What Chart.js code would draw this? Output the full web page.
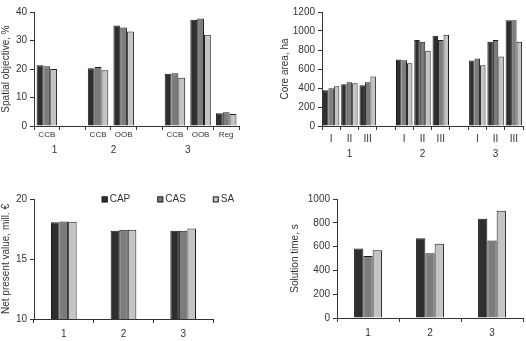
<!DOCTYPE html>
<html><head><meta charset="utf-8">
<script src="https://cdn.jsdelivr.net/npm/chart.js@4.4.0/dist/chart.umd.min.js"></script>
<style>
html,body{margin:0;padding:0;background:#fff;width:526px;height:341px;overflow:hidden}
canvas{position:absolute}
</style></head><body>
<canvas id="c1" width="263" height="170" style="left:0;top:0"></canvas>
<canvas id="c2" width="263" height="170" style="left:263px;top:0"></canvas>
<canvas id="c3" width="263" height="171" style="left:0;top:170px"></canvas>
<canvas id="c4" width="263" height="171" style="left:263px;top:170px"></canvas>
<script>
const seriesNames = ['CAP','CAS','SA'];
const seriesColors = ['#2e2e2e','#7c7c7c','#c4c4c4'];

const spatialCats = ['CCB','','CCB','OOB','','CCB','OOB','Reg'];
const spatialGroups = ['1','2','3'];
const spatialCAP = [21.3,null,20.3,35.3,null,18.3,37.3,4.5];
const spatialCAS = [21.0,null,20.7,34.6,null,18.5,37.7,4.8];
const spatialSA  = [20.0,null,19.6,33.2,null,16.9,32.0,4.2];

const coreCats = ['I','II','III','','I','II','III','','I','II','III'];
const coreGroups = ['1','2','3'];
const coreCAP = [376,440,430,null,700,905,950,null,690,887,1112];
const coreCAS = [398,461,461,null,692,887,904,null,711,904,1112];
const coreSA  = [419,450,521,null,661,792,961,null,640,732,887];

const runCats = ['1','2','3'];
const npvCAP = [18.07,17.35,17.35];
const npvCAS = [18.13,17.43,17.35];
const npvSA  = [18.10,17.43,17.54];
const timeCAP = [584,670,835];
const timeCAS = [520,545,651];
const timeSA  = [570,623,902];

const FONT = '"Liberation Sans", Arial, sans-serif';
const TXT = '#333';

const groupLabelPlugin = {
  id: 'groupLabels',
  afterDraw(chart, args, opts) {
    if (!opts || !opts.labels) return;
    const x = chart.scales.x, ctx = chart.ctx;
    ctx.save();
    ctx.font = '10px ' + FONT; ctx.fillStyle = TXT;
    ctx.textAlign = 'center'; ctx.textBaseline = 'middle';
    opts.labels.forEach((t, i) => ctx.fillText(t, x.getPixelForValue(opts.at[i]), x.top + opts.dy));
    ctx.restore();
  }
};

const boxLegendPlugin = {
  id: 'boxLegend',
  afterDraw(chart, args, opts) {
    if (!opts || !opts.show) return;
    const ctx = chart.ctx, a = chart.chartArea;
    ctx.save();
    ctx.font = '10px ' + FONT; ctx.textBaseline = 'middle'; ctx.textAlign = 'left';
    let x = a.left + opts.dx; const y = a.top + opts.dy;
    chart.data.datasets.forEach(ds => {
      ctx.fillStyle = ds.backgroundColor; ctx.fillRect(x, y - 3, 6, 6);
      ctx.strokeStyle = '#222'; ctx.lineWidth = 1; ctx.strokeRect(x + 0.5, y - 2.5, 5, 5);
      ctx.fillStyle = TXT; ctx.fillText(ds.label, x + 8, y);
      x += 8 + ctx.measureText(ds.label).width + opts.gap;
    });
    ctx.restore();
  }
};

function datasets(arrs, catPct) {
  return arrs.map((d, i) => ({
    label: seriesNames[i], data: d, backgroundColor: seriesColors[i],
    borderColor: '#1e1e1e', borderWidth: 1, categoryPercentage: catPct, barPercentage: 1
  }));
}
function yScale(min, max, step, title, width) {
  return {
    min, max,
    ticks: { stepSize: step, color: TXT, font: { size: 10, family: FONT }, padding: 3, callback: v => String(v) },
    grid: { drawOnChartArea: false, drawTicks: true, tickLength: 4, color: '#333' },
    border: { display: true, color: '#333' },
    title: { display: true, text: title, color: TXT, font: { size: 10, family: FONT }, padding: { top: 0, bottom: 0 } },
    afterFit(s) { s.width = width; }
  };
}
function xScale(fontSize, pad, height) {
  return {
    type: 'category', offset: true,
    grid: { drawOnChartArea: false, offset: true, tickLength: 4, color: '#333' },
    border: { display: true, color: '#333' },
    ticks: { color: TXT, font: { size: fontSize, family: FONT }, padding: pad, autoSkip: false, maxRotation: 0 },
    afterFit(s) { s.height = height; }
  };
}
function make(id, labels, arrs, catPct, xs, ys, padding, pluginOpts) {
  return new Chart(document.getElementById(id), {
    type: 'bar',
    data: { labels, datasets: datasets(arrs, catPct) },
    options: {
      responsive: false, animation: false, devicePixelRatio: 1,
      layout: { padding },
      plugins: Object.assign({ legend: { display: false }, tooltip: { enabled: false } }, pluginOpts),
      scales: { x: xs, y: ys }
    },
    plugins: [groupLabelPlugin, boxLegendPlugin]
  });
}

make('c1', spatialCats, [spatialCAP, spatialCAS, spatialSA], 0.8,
  xScale(8, 0, 44), yScale(0, 40, 10, 'Spatial objective, %', 34),
  { left: 0, right: 24, top: 12, bottom: 0 },
  { groupLabels: { labels: spatialGroups, at: [0.3, 2.6, 5.5], dy: 24 } });

make('c2', coreCats, [coreCAP, coreCAS, coreSA], 0.9,
  xScale(10, 3, 44), yScale(0, 1200, 200, 'Core area, ha', 43),
  { left: 16, right: 3, top: 12, bottom: 0 },
  { groupLabels: { labels: coreGroups, at: [1, 5, 9], dy: 28 } });

make('c3', runCats, [npvCAP, npvCAS, npvSA], 0.43,
  xScale(10, 5, 22), yScale(10, 20, 5, 'Net present value, mill. \u20ac', 34),
  { left: 0, right: 50, top: 29, bottom: 0 },
  { boxLegend: { show: true, dx: 67.7, dy: 0.4, gap: 27 } });

make('c4', runCats, [timeCAP, timeCAS, timeSA], 0.45,
  xScale(10, 5, 23), yScale(0, 1000, 200, 'Solution time, s', 48),
  { left: 26, right: 3, top: 29, bottom: 0 }, {});
</script>
</body></html>
